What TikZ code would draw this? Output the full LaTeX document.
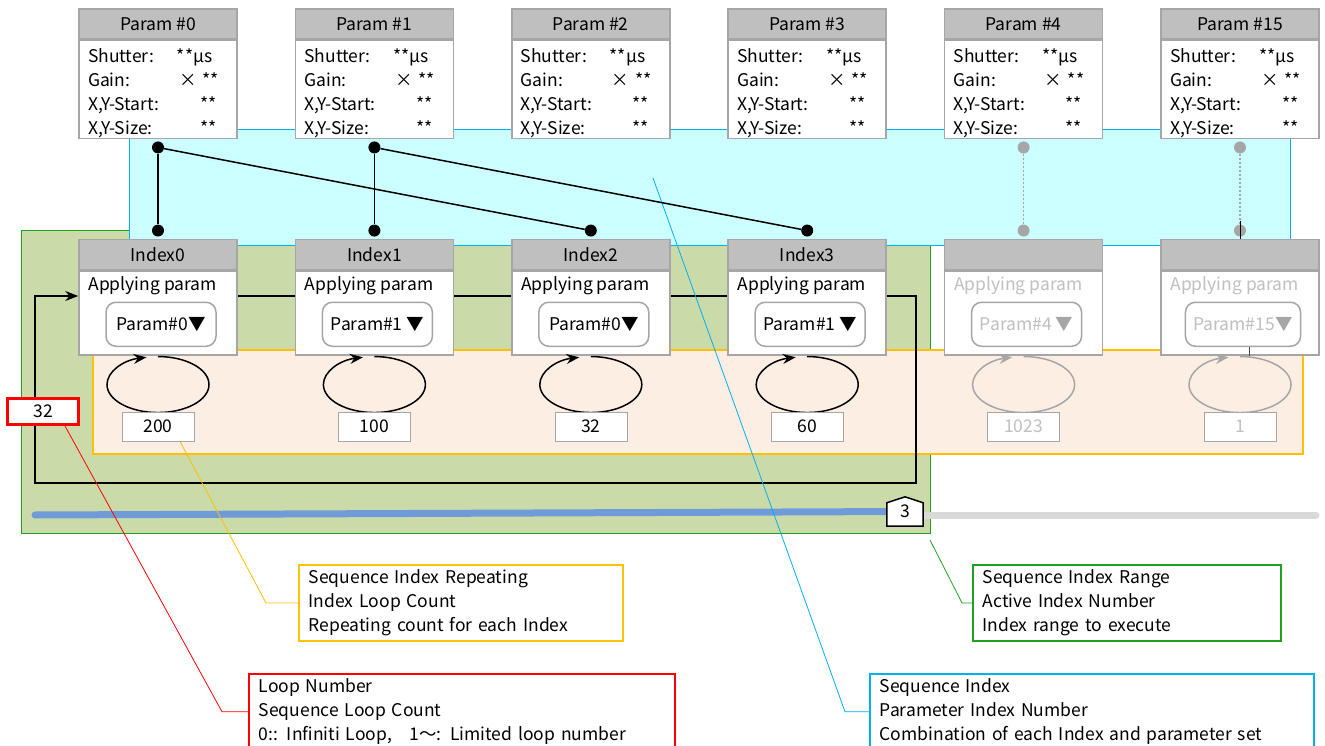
\documentclass[tikz,border=0pt]{standalone}
\usepackage{fontspec}
\setmainfont{Noto Sans CJK JP}
\usetikzlibrary{positioning,arrows.meta,shapes.geometric}
\pgfdeclarelayer{back}
\pgfsetlayers{back,main}

\definecolor{hdrgray}{HTML}{BFBFBF}
\definecolor{boxgray}{HTML}{A6A6A6}
\definecolor{offtext}{HTML}{C0C0C0}
\definecolor{cyanfill}{HTML}{CCFFFF}
\definecolor{cyanline}{HTML}{00B0F0}
\definecolor{greenfill}{HTML}{CADBA9}
\definecolor{greenline}{HTML}{22A022}
\definecolor{peachfill}{HTML}{FDEEE4}
\definecolor{orangeline}{HTML}{FFC000}
\definecolor{sliderblue}{HTML}{6F9BD9}
\definecolor{slidergray}{HTML}{D9D9D9}

\tikzset{
  hdr/.style={draw=boxgray, line width=1.5pt, fill=hdrgray, minimum width=158pt,
    minimum height=30pt, inner sep=0pt},
  pbody/.style={draw=boxgray, line width=1.5pt, fill=white, minimum width=158pt,
    minimum height=98pt, inner sep=0pt, text width=140pt, align=left},
  ibody/.style={draw=boxgray, line width=1.5pt, fill=white, minimum width=158pt,
    minimum height=84pt, inner sep=0pt},
  dd/.style={draw=boxgray, line width=1.5pt, rounded corners=10pt, fill=white,
    minimum width=110pt, minimum height=44pt, inner xsep=8pt},
  lp/.style={ellipse, minimum width=102pt, minimum height=56pt, inner sep=0pt},
  cnt/.style={draw=boxgray, fill=white, minimum width=72pt, minimum height=29pt, inner sep=0pt},
  dot/.style={circle, fill=black, minimum size=12pt, inner sep=0pt},
  gdot/.style={dot, fill=boxgray},
  callout/.style={anchor=north west, line width=1.5pt, fill=white, align=left,
    inner xsep=10pt, inner ysep=5pt},
  lead/.style={line width=0.8pt}
}

\begin{document}
\begin{tikzpicture}[x=1pt, y=-1pt, >={Stealth[length=13pt,width=10pt]},
    font=\fontsize{17.5}{24}\selectfont]
\useasboundingbox (0,0) rectangle (1325,746);

% parameter sets
\foreach \n [count=\i from 0] in {0,1,2,3,4,15} {
  \node[hdr] (ph\n) at (158+216.4*\i,24) {Param \#\n};
  \node[pbody] (p\n) [below=0pt of ph\n]
    {\rule{0pt}{22pt}\makebox[89pt][l]{Shutter:}**μs\\
     \makebox[91pt][l]{Gain:}× **\\
     \makebox[112pt][l]{X,Y-Start:}**\\
     \makebox[112pt][l]{X,Y-Size:}**};
}

% sequence indexes
\foreach \n/\pname/\cnum/\tc/\lc in {0/{Param\#0}/200/black/black,
    1/{Param\#1 }/100/black/black, 2/{Param\#0}/32/black/black,
    3/{Param\#1 }/60/black/black, 4/{Param\#4 }/1023/offtext/boxgray,
    15/{Param\#15}/1/offtext/boxgray} {
  \node[hdr] (ih\n) [below=199pt of p\n.south |- ph\n.south] {\ifnum\n<4 Index\n\fi};
  \node[ibody] (i\n) [below=0pt of ih\n] {};
  \node[anchor=base west, text=\tc, inner sep=0pt] (ap\n)
    at ([xshift=10pt,yshift=-20pt]i\n.north west) {Applying param};
  \node[dd, text=\tc] (dd\n) at ([xshift=3pt,yshift=-54pt]i\n.north)
    {\pname\textcolor{\lc}{▼}};
  \node[lp] (lp\n) at ([yshift=-29pt]i\n.south) {};
  \draw[->, draw=\lc, fill=none, line width=1.5pt] (lp\n.north)
    arc[start angle=90, end angle=-257, x radius=51pt, y radius=28pt];
  \node[cnt, text=\tc] (cn\n) at ([yshift=-71pt]i\n.south) {\cnum};
}

% links between parameter sets and indexes
\node[dot] (pd0) [below=2pt of p0] {};
\node[dot] (pd1) [below=2pt of p1] {};
\foreach \n in {0,...,3}
  \node[dot] (id\n) [above=2pt of ih\n] {};
\path[line width=1.5pt]
  (pd0) edge (id0)
        edge (id2)
  (pd1) edge (id1)
        edge (id3);
\foreach \n in {4,15} {
  \node[gdot] (pd\n) [below=2pt of p\n] {};
  \node[gdot] (id\n) [above=2pt of ih\n] {};
  \draw[boxgray, line width=1.2pt, dash pattern=on 2pt off 2pt] (pd\n) -- (id\n);
}
\draw[line width=0.8pt] ([yshift=10pt]id15.center) -- (ih15.north);
\draw[line width=0.8pt, black!70] ([xshift=6pt]dd15.south) -- ([xshift=6pt]dd15.south |- i15.south);

% loop number and slider
\node[draw=red, line width=3pt, fill=white, minimum width=71pt, minimum height=26pt,
  inner sep=0pt] (lnum) at (43,411.5) {32};
\node[minimum width=36pt, minimum height=29pt, inner sep=0pt] (knob) at (905,511.5) {3};

% explanations
\node[callout, draw=orangeline, text width=304pt] (obox) at (298,564)
  {Sequence Index Repeating\\Index Loop Count\\Repeating count for each Index};
\node[callout, draw=greenline, text width=288pt] (gbox) at (972,564)
  {Sequence Index Range\\Active Index Number\\Index range to execute};
\node[callout, draw=red, text width=406pt] (rbox) at (248,673)
  {Loop Number\\Sequence Loop Count\\0:: Infiniti Loop,\quad 1〜: Limited loop number};
\node[callout, draw=cyanline, text width=424pt] (cbox) at (869,673)
  {Sequence Index\\Parameter Index Number\\Combination of each Index and parameter set};

\begin{pgfonlayer}{back}
  \filldraw[fill=greenfill, draw=greenline, line width=1pt] (21,231) rectangle (930,533);
  \filldraw[fill=cyanfill, draw=cyanline, line width=1pt] (129,130) rectangle (1290,245);
  \filldraw[fill=peachfill, draw=orangeline, line width=1.2pt] (93,350) rectangle (1303,454);
  \coordinate (grn) at (930,540);
  \coordinate (cyn) at (653,178);
  \draw[->, line width=1.5pt] (i0.west |- 0,296) -- (916,296) -- (916,483)
    -- (35,483) -- (35,296) -- (i0.west |- 0,296);
  \draw[sliderblue, line width=7pt, line cap=round] (35,515) -- (knob.center);
  \draw[slidergray, line width=7pt, line cap=round] (knob.east |- 0,515) -- (1316,515);
  \filldraw[fill=white, line width=1.5pt] (knob.south west) -- ([yshift=-6pt]knob.north west)
    -- (knob.north) -- ([yshift=-6pt]knob.north east) -- (knob.south east) -- cycle;
  \draw[lead, red] ([xshift=22pt]lnum.south) -- ([xshift=-26pt]rbox.west) -- (rbox.west);
  \draw[lead, orangeline] ([xshift=22pt]cn0.south) -- ([xshift=-32pt]obox.west) -- (obox.west);
  \draw[lead, greenline] (grn) -- ([xshift=-10pt]gbox.west) -- (gbox.west);
  \draw[lead, cyanline] (cyn) -- ([xshift=-24pt]cbox.west) -- (cbox.west);
\end{pgfonlayer}
\end{tikzpicture}
\end{document}
